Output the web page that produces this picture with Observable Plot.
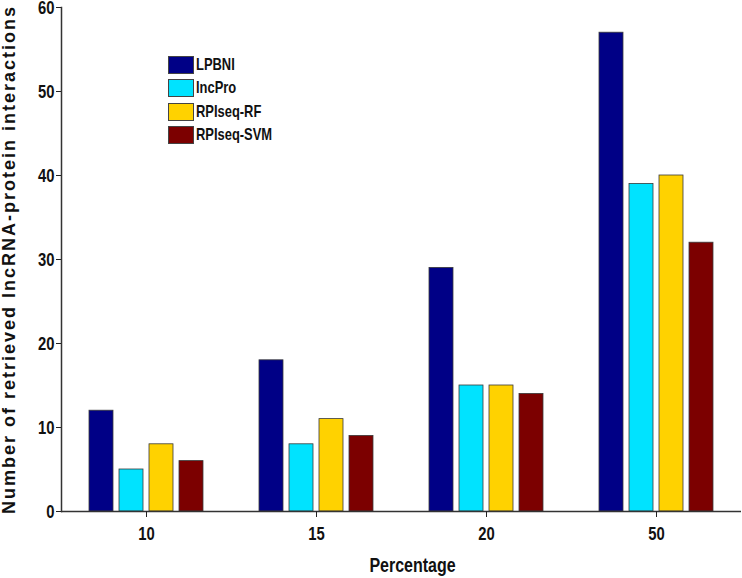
<!DOCTYPE html>
<html>
<head>
<meta charset="utf-8">
<script src="https://cdn.jsdelivr.net/npm/d3@7"></script>
<script src="https://cdn.jsdelivr.net/npm/@observablehq/plot@0.6"></script>
<style>
  html, body { margin: 0; padding: 0; background: #fff; }
  #wrap { position: relative; width: 742px; height: 578px; }
  #chart svg { display: block; color: #222; }
  #chart svg g[aria-label="y-axis tick label"] text,
  #chart svg g[aria-label="fx-axis tick label"] text {
    font-family: "Liberation Sans", Arial, sans-serif;
    font-weight: bold; font-size: 19px; fill: #111;
  }
  #chart svg g[aria-label="fx-axis label"] text {
    font-family: "Liberation Sans", Arial, sans-serif;
    font-weight: bold; font-size: 20px; fill: #111;
  }
  #chart svg g[aria-label="y-axis label"] text {
    font-family: "Liberation Sans", Arial, sans-serif;
    font-weight: bold; font-size: 18px; letter-spacing: 2px; fill: #111;
  }
  #legend { position: absolute; left: 168px; top: 56px;
    font-family: "Liberation Sans", Arial, sans-serif;
    font-weight: bold; font-size: 17px; color: #111; }
  #legend .row { display: flex; align-items: center; height: 17px; margin-bottom: 6.5px; }
  #legend .sw { width: 24px; height: 16px; border: 1px solid #444; margin-right: 2px; box-sizing: content-box; flex: none; }
  #legend span { display: inline-block; transform: scale(0.76, 1); transform-origin: left center; white-space: nowrap; }
</style>
</head>
<body>
<div id="wrap">
  <div id="chart"></div>
  <div id="legend"></div>
</div>
<script>
const percentages = ["10", "15", "20", "50"];
const methods = ["LPBNI", "lncPro", "RPIseq-RF", "RPIseq-SVM"];
const colors = ["#000086", "#00E3FF", "#FFD200", "#7C0000"];
const lpbniValues = [12, 18, 29, 57];
const lncproValues = [5, 8, 15, 39];
const rpiseqRfValues = [8, 11, 15, 40];
const rpiseqSvmValues = [6, 9, 14, 32];
const yTicks = [0, 10, 20, 30, 40, 50, 60];

const seriesValues = [lpbniValues, lncproValues, rpiseqRfValues, rpiseqSvmValues];
const data = [];
percentages.forEach((p, i) => {
  methods.forEach((m, j) => {
    data.push({pct: p, method: m, value: seriesValues[j][i]});
  });
});

const chart = Plot.plot({
  width: 742,
  height: 578,
  marginTop: 7,
  marginLeft: 61,
  marginRight: 1,
  marginBottom: 67,
  style: {background: "#fff", overflow: "visible"},
  fx: {domain: percentages, padding: 0},
  x: {domain: methods, paddingInner: 0.19, paddingOuter: 0.84, axis: null},
  y: {domain: [0, 60]},
  color: {domain: methods, range: colors},
  marks: [
    Plot.barY(data, {fx: "pct", x: "method", y: "value", fill: "method", stroke: "#3a3a3a", strokeWidth: 0.8}),
    Plot.ruleY([0], {stroke: "#333", strokeWidth: 1.5}),
    Plot.frame({anchor: "left", facetAnchor: "left", stroke: "#333", strokeWidth: 1.5}),
    Plot.axisY({ticks: yTicks, tickSize: 5, tickPadding: 2, label: "Number of retrieved lncRNA-protein interactions", labelAnchor: "center", labelOffset: 59, labelArrow: "none"}),
    Plot.axisFx({anchor: "bottom", tickSize: 6, tickPadding: 9, label: "Percentage", labelAnchor: "center", labelOffset: 60, labelArrow: "none"})
  ]
});
document.getElementById("chart").appendChild(chart);

// condense axis texts horizontally (narrow bold look of the reference)
d3.select(chart)
  .selectAll('g[aria-label="y-axis tick label"] text, g[aria-label="fx-axis tick label"] text')
  .attr("transform", function () {
    const t = this.getAttribute("transform") || "";
    return (t + " scale(0.78,1)").trim();
  });
d3.select(chart)
  .selectAll('g[aria-label="fx-axis label"] text')
  .attr("transform", function () {
    const t = this.getAttribute("transform") || "";
    return ("translate(11,0) " + t + " scale(0.8,1)").trim();
  });

const legend = d3.select("#legend");
methods.forEach((m, j) => {
  const row = legend.append("div").attr("class", "row");
  row.append("div").attr("class", "sw").style("background", colors[j]);
  row.append("span").text(m);
});
</script>
</body>
</html>
